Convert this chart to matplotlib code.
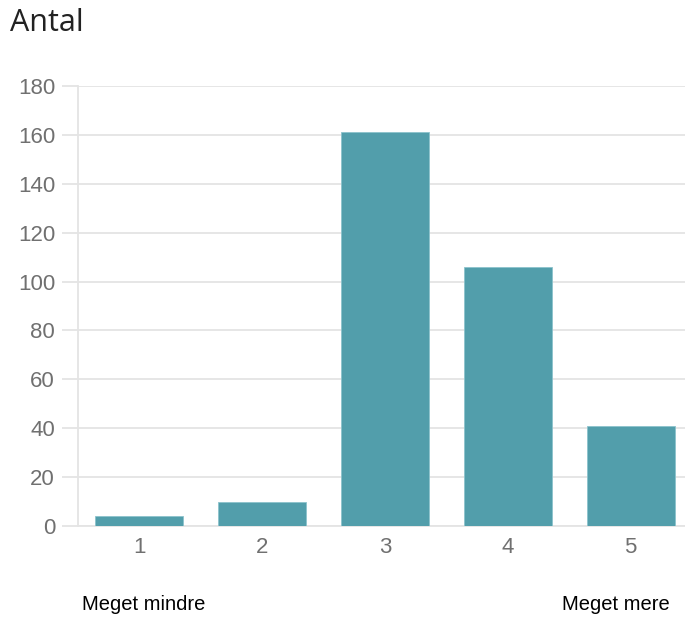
import matplotlib
matplotlib.use('Agg')
import matplotlib.pyplot as plt

categories = ['1', '2', '3', '4', '5']
counts = [4, 10, 161, 106, 41]
y_ticks = [0, 20, 40, 60, 80, 100, 120, 140, 160, 180]

fig = plt.figure(figsize=(6.85, 6.18), dpi=100)
ax = fig.add_axes([78 / 685, 92 / 618, 614 / 685, 440 / 618])

x = range(len(categories))
ax.bar(x, counts, width=0.717, color='#529eab', edgecolor='#8cc3cc', linewidth=0.6, zorder=3)

ax.set_xlim(-0.5, len(categories) - 0.5)
ax.set_ylim(0, 180)
ax.set_yticks(y_ticks)
ax.set_xticks(list(x))
ax.set_xticklabels(categories)

ax.grid(axis='y', color='#e4e4e4', linewidth=1.3, zorder=0)
ax.grid(axis='x', visible=False)
for side in ['top', 'right']:
    ax.spines[side].set_visible(False)
ax.spines['left'].set_color('#e4e4e4')
ax.spines['left'].set_linewidth(1.3)
ax.spines['bottom'].set_color('#e4e4e4')
ax.spines['bottom'].set_linewidth(1.3)

ax.tick_params(axis='y', length=11.5, width=1.3, color='#e4e4e4', pad=5,
               labelsize=16, labelcolor='#707070')
ax.tick_params(axis='x', length=0, pad=8, labelsize=16, labelcolor='#707070')
for lab in ax.get_xticklabels() + ax.get_yticklabels():
    lab.set_family('Liberation Sans')

fig.text(10 / 685, 1 - 23 / 618, 'Antal', fontsize=22, color='#222222',
         family='Open Sans', va='center', ha='left')
fig.text(144 / 685, 1 - 605 / 618, 'Meget mindre', fontsize=14.5, color='black',
         family='Liberation Sans', va='center', ha='center')
fig.text(616 / 685, 1 - 605 / 618, 'Meget mere', fontsize=14.5, color='black',
         family='Liberation Sans', va='center', ha='center')

fig.savefig('out.png', dpi=100)
